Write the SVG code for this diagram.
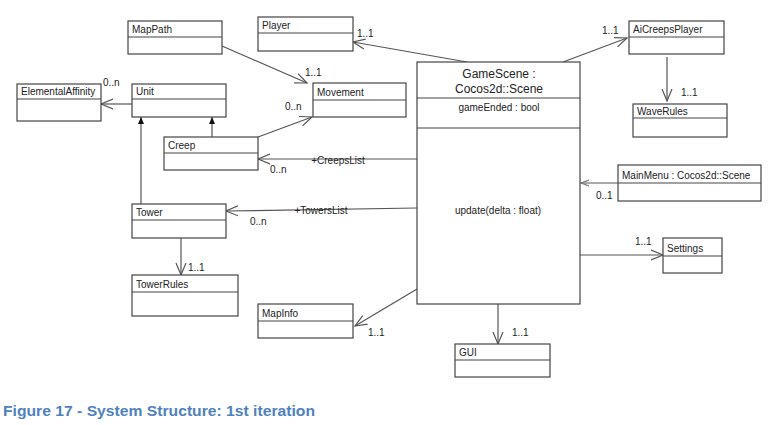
<svg xmlns="http://www.w3.org/2000/svg" width="784" height="425" viewBox="0 0 784 425">
<style>
.box{fill:#fff;stroke:#444;stroke-width:1.2}
.div{stroke:#444;stroke-width:1.2}
.t{font-family:"Liberation Sans",Arial,sans-serif;font-size:10px;fill:#222}
.big{font-size:12px}
.c{stroke:#555;stroke-width:1.2;fill:none}
.cap{font-family:"Liberation Sans",Arial,sans-serif;font-size:15px;font-weight:bold;fill:#4F81BD}
</style>
<defs>
<marker id="open" markerUnits="userSpaceOnUse" markerWidth="14" markerHeight="14" viewBox="0 0 14 14" refX="12" refY="7" orient="auto">
<path d="M0,2 L12,7 L0,12" fill="none" stroke="#555" stroke-width="1.2"/>
</marker>
<marker id="small" markerUnits="userSpaceOnUse" markerWidth="10" markerHeight="10" viewBox="0 0 10 10" refX="8" refY="5" orient="auto">
<path d="M0,2 L8,5 L0,8" fill="none" stroke="#777" stroke-width="1.2"/>
</marker>
<marker id="tri" markerUnits="userSpaceOnUse" markerWidth="10" markerHeight="10" viewBox="0 0 10 10" refX="7" refY="5" orient="auto">
<path d="M0,2 L7,5 L0,8 Z" fill="#111" stroke="none"/>
</marker>
</defs>

<g id="connectors">
<line class="c" x1="222" y1="46" x2="307" y2="83" marker-end="url(#open)"/>
<line class="c" x1="467" y1="62" x2="353" y2="42" marker-end="url(#open)"/>
<line class="c" x1="258" y1="137" x2="312" y2="117" marker-end="url(#open)"/>
<line class="c" x1="132" y1="104" x2="101" y2="104" marker-end="url(#open)"/>
<line class="c" x1="212" y1="137" x2="212" y2="117" marker-end="url(#tri)"/>
<line class="c" x1="141" y1="204" x2="141" y2="117" marker-end="url(#tri)"/>
<line class="c" x1="417" y1="159" x2="258" y2="159" marker-end="url(#open)"/>
<line class="c" x1="417" y1="208" x2="226" y2="211" marker-end="url(#open)"/>
<line class="c" x1="181" y1="238" x2="181" y2="275" marker-end="url(#open)"/>
<line class="c" x1="417" y1="289" x2="355" y2="326" marker-end="url(#open)"/>
<line class="c" x1="498" y1="304" x2="498" y2="344" marker-end="url(#open)"/>
<line class="c" x1="580" y1="255" x2="663" y2="255" marker-end="url(#open)"/>
<line class="c" x1="618" y1="183" x2="581" y2="183" marker-end="url(#small)"/>
<line class="c" x1="563" y1="62" x2="627" y2="38" marker-end="url(#open)"/>
<line class="c" x1="667" y1="57" x2="667" y2="101" marker-end="url(#open)"/>
<text class="t" x="338" y="163.5" text-anchor="middle">+CreepsList</text>
<text class="t" x="321" y="214" text-anchor="middle">+TowersList</text>
<text class="t" x="103" y="86">0..n</text>
<text class="t" x="305" y="76">1..1</text>
<text class="t" x="357" y="37">1..1</text>
<text class="t" x="285" y="110">0..n</text>
<text class="t" x="602" y="34">1..1</text>
<text class="t" x="681" y="96">1..1</text>
<text class="t" x="270" y="173">0..n</text>
<text class="t" x="250" y="225">0..n</text>
<text class="t" x="188" y="271">1..1</text>
<text class="t" x="368" y="336">1..1</text>
<text class="t" x="596" y="199">0..1</text>
<text class="t" x="635" y="245">1..1</text>
<text class="t" x="512" y="336">1..1</text>
</g>

<g id="MapPath"><rect class="box" x="128" y="21" width="94" height="33"/><line class="div" x1="128" y1="37" x2="222" y2="37"/><text class="t" x="132" y="33">MapPath</text></g>
<g id="Player"><rect class="box" x="258" y="17" width="95" height="34"/><line class="div" x1="258" y1="33" x2="353" y2="33"/><text class="t" x="262" y="29">Player</text></g>
<g id="ElementalAffinity"><rect class="box" x="17" y="84" width="84" height="37"/><line class="div" x1="17" y1="99" x2="101" y2="99"/><text class="t" x="21" y="95">ElementalAffinity</text></g>
<g id="Unit"><rect class="box" x="132" y="84" width="94" height="33"/><line class="div" x1="132" y1="99" x2="226" y2="99"/><text class="t" x="136" y="95">Unit</text></g>
<g id="Movement"><rect class="box" x="313" y="83" width="93" height="34"/><line class="div" x1="313" y1="100" x2="406" y2="100"/><text class="t" x="317" y="96">Movement</text></g>
<g id="Creep"><rect class="box" x="164" y="137" width="94" height="33"/><line class="div" x1="164" y1="153" x2="258" y2="153"/><text class="t" x="168" y="149">Creep</text></g>
<g id="Tower"><rect class="box" x="132" y="204" width="94" height="34"/><line class="div" x1="132" y1="220" x2="226" y2="220"/><text class="t" x="136" y="216">Tower</text></g>
<g id="TowerRules"><rect class="box" x="132" y="275" width="106" height="41"/><line class="div" x1="132" y1="292" x2="238" y2="292"/><text class="t" x="136" y="288">TowerRules</text></g>
<g id="MapInfo"><rect class="box" x="258" y="304" width="95" height="34"/><line class="div" x1="258" y1="321" x2="353" y2="321"/><text class="t" x="262" y="317">MapInfo</text></g>
<g id="GameScene"><rect class="box" x="417" y="62" width="163" height="242"/><line class="div" x1="417" y1="98" x2="580" y2="98"/><line class="div" x1="417" y1="128" x2="580" y2="128"/>
<text class="t big" x="499" y="78" text-anchor="middle">GameScene :</text>
<text class="t big" x="499" y="93" text-anchor="middle">Cocos2d::Scene</text>
<text class="t" x="499" y="111" text-anchor="middle">gameEnded : bool</text>
<text class="t" x="498" y="214" text-anchor="middle">update(delta : float)</text></g>
<g id="AiCreepsPlayer"><rect class="box" x="629" y="21" width="95" height="33"/><line class="div" x1="629" y1="37" x2="724" y2="37"/><text class="t" x="633" y="33">AiCreepsPlayer</text></g>
<g id="WaveRules"><rect class="box" x="633" y="104" width="94" height="33"/><line class="div" x1="633" y1="118" x2="727" y2="118"/><text class="t" x="637" y="115">WaveRules</text></g>
<g id="MainMenu"><rect class="box" x="618" y="165" width="143" height="36"/><line class="div" x1="618" y1="183" x2="761" y2="183"/><text class="t" x="622" y="179">MainMenu : Cocos2d::Scene</text></g>
<g id="Settings"><rect class="box" x="663" y="238" width="59" height="35"/><line class="div" x1="663" y1="256" x2="722" y2="256"/><text class="t" x="667" y="252">Settings</text></g>
<g id="GUI"><rect class="box" x="455" y="344" width="95" height="33"/><line class="div" x1="455" y1="360" x2="550" y2="360"/><text class="t" x="459" y="356">GUI</text></g>

<text class="cap" x="3" y="416" textLength="312" lengthAdjust="spacingAndGlyphs">Figure 17 - System Structure: 1st iteration</text>
</svg>
